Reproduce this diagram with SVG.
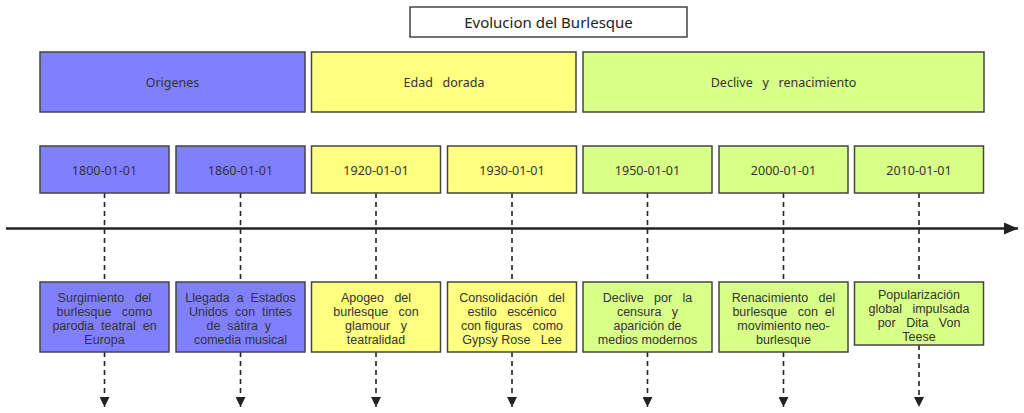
<svg xmlns="http://www.w3.org/2000/svg" width="1024" height="413" viewBox="0 0 1024 413">
<defs>
<style>
text{font-family:"Noto Sans","Open Sans","Liberation Sans",sans-serif;font-size:12.5px;fill:#333;text-anchor:middle}
.t{font-size:15px;fill:#222}
.e{font-family:"Liberation Sans",Arial,sans-serif;font-size:12.5px}
.b{stroke:#444;stroke-width:1.5}
.blue{fill:#8080ff}
.yel{fill:#ffff80}
.grn{fill:#d8ff88}
.dash{stroke:#222;stroke-width:1.6;stroke-dasharray:5 4;fill:none}
</style>
<marker id="ah" viewBox="0 0 10 10" refX="10" refY="5" markerWidth="11" markerHeight="10" markerUnits="userSpaceOnUse" orient="auto">
<path d="M0,0 L10,5 L0,10 z" fill="#222"/>
</marker>
<marker id="ax" viewBox="0 0 14 12" refX="14" refY="6" markerWidth="14" markerHeight="12" markerUnits="userSpaceOnUse" orient="auto">
<path d="M0,0 L14,6 L0,12 z" fill="#222"/>
</marker>
</defs>
<rect width="1024" height="413" fill="#fff"/>
<g id="title"><rect x="410" y="7" width="277" height="30" fill="#fff" class="b"/><text class="t" x="548.5" y="28">Evolucion del Burlesque</text></g>
<g id="period-origenes"><rect x="40" y="52" width="265" height="60" class="b blue"/><text x="172.5" y="87">Origenes</text></g>
<g id="period-edad"><rect x="311.5" y="52" width="264.5" height="60" class="b yel"/><text x="444" y="87" xml:space="preserve">Edad   dorada</text></g>
<g id="period-declive"><rect x="583" y="52" width="401" height="60" class="b grn"/><text x="783.5" y="87" xml:space="preserve">Declive   y   renacimiento</text></g>
<g id="connectors">
<line x1="6" y1="228.5" x2="1018" y2="228.5" stroke="#222" stroke-width="2.5" marker-end="url(#ax)"/>
<path class="dash" d="M104.5,193V282M104.5,352V407" marker-end="url(#ah)"/>
<path class="dash" d="M240.5,193V282M240.5,352V407" marker-end="url(#ah)"/>
<path class="dash" d="M376,193V282M376,352V407" marker-end="url(#ah)"/>
<path class="dash" d="M512,193V282M512,352V407" marker-end="url(#ah)"/>
<path class="dash" d="M647.5,193V282M647.5,352V407" marker-end="url(#ah)"/>
<path class="dash" d="M783.5,193V282M783.5,352V407" marker-end="url(#ah)"/>
<path class="dash" d="M919,193V282M919,345V407" marker-end="url(#ah)"/>
</g>
<g id="d1800"><rect x="40" y="146" width="129" height="47" class="b blue"/><text x="104.5" y="175">1800-01-01</text></g>
<g id="d1860"><rect x="176" y="146" width="129" height="47" class="b blue"/><text x="240.5" y="175">1860-01-01</text></g>
<g id="d1920"><rect x="311.5" y="146" width="129" height="47" class="b yel"/><text x="376" y="175">1920-01-01</text></g>
<g id="d1930"><rect x="447.5" y="146" width="129" height="47" class="b yel"/><text x="512" y="175">1930-01-01</text></g>
<g id="d1950"><rect x="583" y="146" width="129" height="47" class="b grn"/><text x="647.5" y="175">1950-01-01</text></g>
<g id="d2000"><rect x="719" y="146" width="129" height="47" class="b grn"/><text x="783.5" y="175">2000-01-01</text></g>
<g id="d2010"><rect x="854.5" y="146" width="129" height="47" class="b grn"/><text x="919" y="175">2010-01-01</text></g>
<g id="e1800"><rect x="40" y="282" width="129" height="70" class="b blue"/>
<text class="e" xml:space="preserve"><tspan x="104.5" y="302">Surgimiento   del</tspan><tspan x="104.5" y="316">burlesque   como</tspan><tspan x="104.5" y="330">parodia  teatral  en</tspan><tspan x="104.5" y="344">Europa</tspan></text></g>
<g id="e1860"><rect x="176" y="282" width="129" height="70" class="b blue"/>
<text class="e" xml:space="preserve"><tspan x="240.5" y="302">Llegada  a  Estados</tspan><tspan x="240.5" y="316">Unidos  con  tintes</tspan><tspan x="240.5" y="330">de  sátira  y </tspan><tspan x="240.5" y="344">comedia musical</tspan></text></g>
<g id="e1920"><rect x="311.5" y="282" width="129" height="70" class="b yel"/>
<text class="e" xml:space="preserve"><tspan x="376" y="302">Apogeo   del</tspan><tspan x="376" y="316">burlesque   con</tspan><tspan x="376" y="330">glamour   y</tspan><tspan x="376" y="344">teatralidad</tspan></text></g>
<g id="e1930"><rect x="447.5" y="282" width="129" height="70" class="b yel"/>
<text class="e" xml:space="preserve"><tspan x="512" y="302">Consolidación   del</tspan><tspan x="512" y="316">estilo   escénico</tspan><tspan x="512" y="330">con figuras   como</tspan><tspan x="512" y="344">Gypsy Rose   Lee</tspan></text></g>
<g id="e1950"><rect x="583" y="282" width="129" height="70" class="b grn"/>
<text class="e" xml:space="preserve"><tspan x="647.5" y="302">Declive   por   la</tspan><tspan x="647.5" y="316">censura   y</tspan><tspan x="647.5" y="330">aparición de</tspan><tspan x="647.5" y="344">medios modernos</tspan></text></g>
<g id="e2000"><rect x="719" y="282" width="129" height="70" class="b grn"/>
<text class="e" xml:space="preserve"><tspan x="783.5" y="302">Renacimiento   del</tspan><tspan x="783.5" y="316">burlesque   con  el</tspan><tspan x="783.5" y="330">movimiento neo-</tspan><tspan x="783.5" y="344">burlesque</tspan></text></g>
<g id="e2010"><rect x="854.5" y="282" width="129" height="63" class="b grn"/>
<text class="e" xml:space="preserve"><tspan x="919" y="299">Popularización</tspan><tspan x="919" y="313">global   impulsada</tspan><tspan x="919" y="327">por   Dita   Von</tspan><tspan x="919" y="341">Teese</tspan></text></g>
</svg>
